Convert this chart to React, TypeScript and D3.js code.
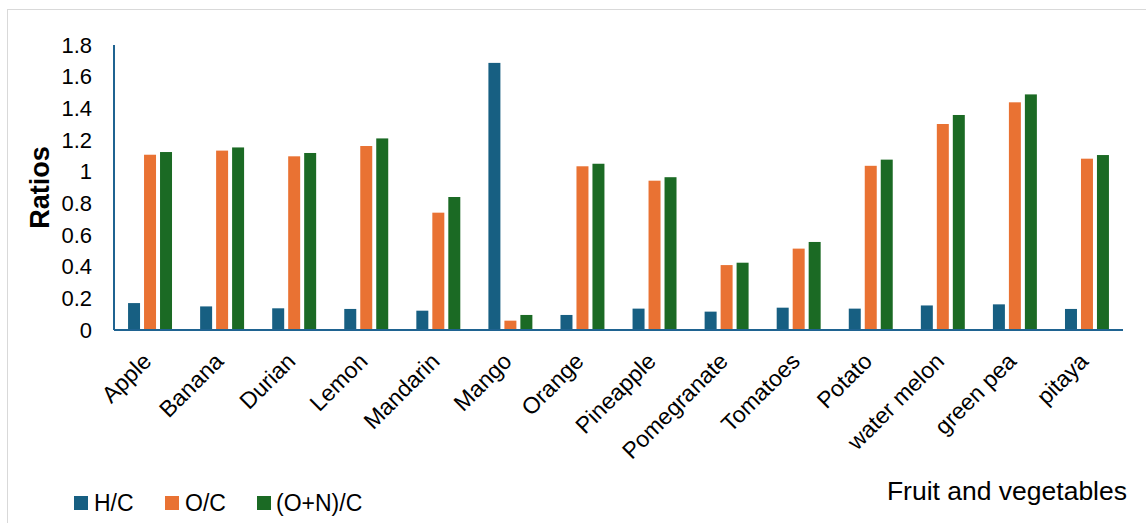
import React from "react";
import * as d3 from "d3";

const categories = ["Apple", "Banana", "Durian", "Lemon", "Mandarin", "Mango", "Orange", "Pineapple", "Pomegranate", "Tomatoes", "Potato", "water melon", "green pea", "pitaya"];
const seriesNames = ["H/C", "O/C", "(O+N)/C"];
const hc = [0.17, 0.149, 0.137, 0.133, 0.122, 1.687, 0.095, 0.135, 0.116, 0.141, 0.135, 0.155, 0.162, 0.133];
const oc = [1.107, 1.133, 1.097, 1.162, 0.741, 0.059, 1.034, 0.943, 0.41, 0.514, 1.037, 1.301, 1.438, 1.082];
const onc = [1.124, 1.153, 1.118, 1.21, 0.84, 0.095, 1.05, 0.965, 0.425, 0.556, 1.076, 1.358, 1.488, 1.105];
const yTicks = [0, 0.2, 0.4, 0.6, 0.8, 1, 1.2, 1.4, 1.6, 1.8];
const colors = ["#175F82", "#E97233", "#1B6A24"];

const W = 1146, H = 523;
const plot = { left: 114, right: 1123, top: 45, bottom: 330 };

export default function App() {
  const data = [hc, oc, onc];
  const x = d3.scaleBand<string>().domain(categories).range([plot.left, plot.right]).paddingInner(0.39).paddingOuter(0.195);
  const xs = d3.scaleBand<string>().domain(seriesNames).range([0, x.bandwidth()]).paddingInner(0.25);
  const y = d3.scaleLinear().domain([0, 1.8]).range([plot.bottom, plot.top]);
  const font = "'Liberation Sans', Arial, sans-serif";
  const legendItems = [
    { sx: 74, tx: 94 },
    { sx: 165, tx: 185 },
    { sx: 257, tx: 276 },
  ];
  return (
    <svg width={W} height={H} style={{ position: "absolute", left: 0, top: 0, background: "#fff" }} fontFamily={font}>
      <rect x={7.5} y={9.5} width={1300} height={700} fill="#fff" stroke="#d9d9d9" strokeWidth={1} />
      {data.map((vals, si) => (
        <g key={si} fill={colors[si]}>
          {categories.map((c, ci) => (
            <rect key={c} x={(x(c) as number) + (xs(seriesNames[si]) as number)} y={y(vals[ci])} width={xs.bandwidth()} height={y(0) - y(vals[ci])} />
          ))}
        </g>
      ))}
      <line x1={plot.left} x2={plot.left} y1={plot.top} y2={plot.bottom} stroke="#1F6391" strokeWidth={2} />
      <line x1={plot.left} x2={plot.right} y1={plot.bottom} y2={plot.bottom} stroke="#1F6391" strokeWidth={2} />
      {yTicks.map((t) => (
        <text key={t} x={92} y={y(t)} dy="0.35em" textAnchor="end" fontSize={22} fill="#000">{d3.format("~g")(t)}</text>
      ))}
      <text transform={`translate(49,${(plot.top + plot.bottom) / 2}) rotate(-90)`} textAnchor="middle" fontSize={27} fontWeight="bold" fill="#000">Ratios</text>
      {categories.map((c) => {
        const cx = (x(c) as number) + x.bandwidth() / 2;
        return (
          <text key={c} transform={`translate(${cx - 3},${plot.bottom + 27}) rotate(-45)`} textAnchor="end" dy="0.35em" fontSize={23} fill="#000">{c}</text>
        );
      })}
      {seriesNames.map((s, i) => (
        <g key={s}>
          <rect x={legendItems[i].sx} y={496} width={14} height={14} fill={colors[i]} />
          <text x={legendItems[i].tx} y={503} dy="0.35em" fontSize={23} fill="#000">{s}</text>
        </g>
      ))}
      <text x={1127} y={500} textAnchor="end" fontSize={26.5} fill="#000">Fruit and vegetables</text>
    </svg>
  );
}
